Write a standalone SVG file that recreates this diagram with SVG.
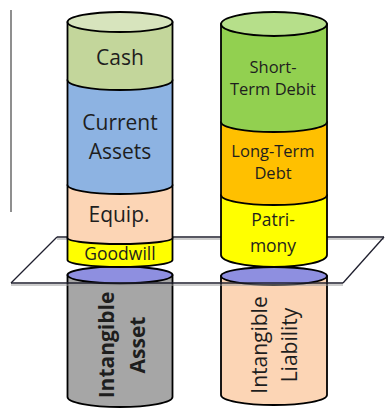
<svg xmlns="http://www.w3.org/2000/svg" width="385" height="409" viewBox="0 0 385 409">
  <style>
    .seg { stroke: #000; stroke-width: 1.8; stroke-linejoin: round; }
    .lbl { font-family: "Open Sans", "Noto Sans", sans-serif; fill: #1e1e1e; text-anchor: middle; }
    .big { font-size: 21px; }
    .mid { font-size: 16.5px; }
    .plane { fill: none; stroke: #1f1f2e; stroke-width: 1.3; }
    .plane-shade { fill: none; stroke: #9a9a9a; stroke-width: 1; }
  </style>
  <rect width="385" height="409" fill="#ffffff"/>

  <!-- vertical rule at the left margin -->
  <line x1="11" y1="10" x2="11" y2="212" stroke="#6a6a6a" stroke-width="1.5"/>

  <!-- cutting plane: edges that sit behind the columns -->
  <g id="plane-back">
    <line class="plane-shade" x1="57" y1="239" x2="384" y2="239"/>
    <line class="plane" x1="57" y1="237" x2="384" y2="237"/>
    <line class="plane" x1="57" y1="237" x2="11" y2="283"/>
    <line class="plane" x1="384" y1="237" x2="343" y2="283"/>
  </g>

  <!-- asset column -->
  <g id="intangible-asset">
    <path class="seg" fill="#a6a6a6" d="M67.5,275 L67.5,397 A52.5,10 0 0 0 172.5,397 L172.5,275 Z"/>
    <text class="lbl big" font-weight="bold" transform="translate(114,345) rotate(-90)">Intangible</text>
    <text class="lbl big" font-weight="bold" transform="translate(145,345) rotate(-90)">Asset</text>
  </g>
  <g id="asset-base">
    <ellipse class="seg" cx="120" cy="275" rx="52.5" ry="8.5" fill="#8e8fe0"/>
  </g>
  <g id="goodwill">
    <path class="seg" fill="#ffff00" d="M67.5,238 L67.5,260 A52.5,7 0 0 0 172.5,260 L172.5,238 Z"/>
    <text class="lbl" font-size="17.5" x="120" y="260">Goodwill</text>
  </g>
  <g id="equip">
    <path class="seg" fill="#fcd5b5" d="M67.5,185 L67.5,238 A52.5,6 0 0 0 172.5,238 L172.5,185 Z"/>
    <text class="lbl big" x="119" y="222">Equip.</text>
  </g>
  <g id="current-assets">
    <path class="seg" fill="#8db3e2" d="M67.5,80 L67.5,185 A52.5,9 0 0 0 172.5,185 L172.5,80 Z"/>
    <text class="lbl big" x="120" y="130">Current</text>
    <text class="lbl big" x="120" y="159">Assets</text>
  </g>
  <g id="cash">
    <path class="seg" fill="#c3d69b" d="M67.5,22 L67.5,80 A52.5,10 0 0 0 172.5,80 L172.5,22 Z"/>
    <ellipse class="seg" cx="120" cy="22" rx="52.5" ry="10" fill="#d7e4bd"/>
    <text class="lbl big" x="120" y="65">Cash</text>
  </g>

  <!-- liability column -->
  <g id="intangible-liability">
    <path class="seg" fill="#fcd5b5" d="M221,276 L221,395 A53,10 0 0 0 327,395 L327,276 Z"/>
    <text class="lbl big" transform="translate(267,345) rotate(-90)">Intangible</text>
    <text class="lbl big" transform="translate(297,345) rotate(-90)">Liability</text>
  </g>
  <g id="liability-base">
    <ellipse class="seg" cx="274" cy="276" rx="53" ry="9" fill="#8e8fe0"/>
  </g>
  <g id="patrimony">
    <path class="seg" fill="#ffff00" d="M221,195 L221,255 A53,12 0 0 0 327,255 L327,195 Z"/>
    <text class="lbl" font-size="17.5" x="273" y="226">Patri-</text>
    <text class="lbl" font-size="17.5" x="273" y="252">mony</text>
  </g>
  <g id="long-term-debt">
    <path class="seg" fill="#ffc000" d="M221,122 L221,195 A53,10 0 0 0 327,195 L327,122 Z"/>
    <text class="lbl mid" x="273" y="157">Long-Term</text>
    <text class="lbl mid" x="273" y="179">Debt</text>
  </g>
  <g id="short-term-debit">
    <path class="seg" fill="#92d050" d="M221,24 L221,122 A53,10 0 0 0 327,122 L327,24 Z"/>
    <ellipse class="seg" cx="274" cy="24" rx="53" ry="12" fill="#b6df8a"/>
    <text class="lbl mid" x="273" y="73">Short-</text>
    <text class="lbl mid" x="273" y="95">Term Debit</text>
  </g>

  <!-- cutting plane: front edge drawn across both columns -->
  <g id="plane-front">
    <line class="plane-shade" x1="11" y1="285" x2="343" y2="285"/>
    <line class="plane" x1="11" y1="283" x2="343" y2="283"/>
  </g>
</svg>
